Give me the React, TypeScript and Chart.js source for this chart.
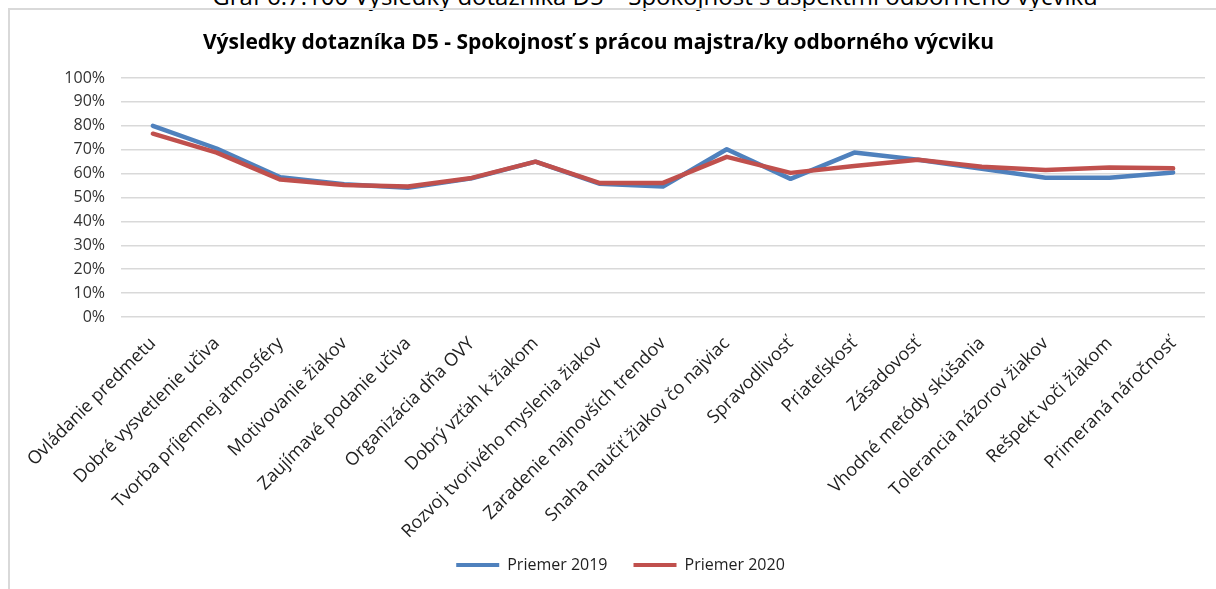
import { useEffect, useRef } from "react";
import { Chart, registerables } from "chart.js";

Chart.register(...registerables);

const pageHeading = "Graf 6.7.100 Výsledky dotazníka D5 – Spokojnosť s aspektmi odborného výcviku";
const chartTitle = "Výsledky dotazníka D5 - Spokojnosť s prácou majstra/ky odborného výcviku";

const categories = [
  "Ovládanie predmetu",
  "Dobré vysvetlenie učiva",
  "Tvorba príjemnej atmosféry",
  "Motivovanie žiakov",
  "Zaujímavé podanie učiva",
  "Organizácia dňa OVY",
  "Dobrý vzťah k žiakom",
  "Rozvoj tvorivého myslenia žiakov",
  "Zaradenie najnovších trendov",
  "Snaha naučiť žiakov čo najviac",
  "Spravodlivosť",
  "Priateľskosť",
  "Zásadovosť",
  "Vhodné metódy skúšania",
  "Tolerancia názorov žiakov",
  "Rešpekt voči žiakom",
  "Primeraná náročnosť",
];

const seriesNames = ["Priemer 2019", "Priemer 2020"];
const seriesColors = ["#4F81BD", "#C0504D"];

const priemer2019 = [80, 70.5, 58.5, 55.5, 54.1, 58, 65, 55.8, 54.6, 70.2, 57.8, 68.8, 65.8, 62, 58.3, 58.3, 60.5];
const priemer2020 = [76.7, 68.8, 57.5, 55.2, 54.6, 58.2, 65, 56.1, 56.1, 67, 60.3, 63.2, 65.8, 62.9, 61.5, 62.6, 62.2];

const yMin = 0;
const yMax = 100;
const yStep = 10;

const shiftPlugin = {
  id: "shiftBlocks",
  afterLayout(chart: any) {
    const t = chart.titleBlock;
    if (t) {
      t.left -= 14;
      t.right -= 14;
    }
    const l = chart.legend;
    if (l) {
      l.left += 8;
      l.right += 8;
    }
    const x = chart.scales.x;
    if (x) {
      // let the long rotated labels run past the legend row, as in the reference
      x.bottom = chart.height;
    }
  },
};

export default function App() {
  const canvasRef = useRef<HTMLCanvasElement | null>(null);

  useEffect(() => {
    if (!canvasRef.current) return;
    const chart = new Chart(canvasRef.current, {
      type: "line",
      data: {
        labels: categories,
        datasets: [
          {
            label: seriesNames[0],
            data: priemer2019,
            borderColor: seriesColors[0],
            backgroundColor: seriesColors[0],
            borderWidth: 4.5,
            pointRadius: 0,
            tension: 0,
            borderCapStyle: "round",
            borderJoinStyle: "round",
            order: 2,
          },
          {
            label: seriesNames[1],
            data: priemer2020,
            borderColor: seriesColors[1],
            backgroundColor: seriesColors[1],
            borderWidth: 4.5,
            pointRadius: 0,
            tension: 0,
            borderCapStyle: "round",
            borderJoinStyle: "round",
            order: 1,
          },
        ],
      },
      plugins: [shiftPlugin],
      options: {
        responsive: false,
        animation: false,
        events: [],
        layout: { padding: { left: 20, right: 11, top: 0, bottom: 6 } },
        scales: {
          x: {
            offset: true,
            grid: { display: false },
            border: { display: false },
            ticks: {
              minRotation: 45,
              maxRotation: 45,
              autoSkip: false,
              color: "#1f1f1f",
              padding: 8,
              font: { family: "'Open Sans', sans-serif", size: 18 },
            },
            afterFit: (scale: any) => {
              scale.height = 214;
            },
          },
          y: {
            min: yMin,
            max: yMax,
            grid: { color: "#d9d9d9", lineWidth: 1.5, drawTicks: false },
            border: { display: false },
            ticks: {
              stepSize: yStep,
              padding: 16,
              color: "#333333",
              font: { family: "'Open Sans', sans-serif", size: 16 },
              callback: (v: any) => v + "%",
            },
            afterFit: (scale: any) => {
              scale.width = 101;
            },
          },
        },
        plugins: {
          title: {
            display: true,
            text: chartTitle,
            color: "#000000",
            font: { family: "'Open Sans', sans-serif", size: 21, weight: "bold" },
            padding: { top: 30.4, bottom: 22.4 },
          },
          legend: {
            position: "bottom",
            labels: {
              boxWidth: 43,
              boxHeight: 4,
              padding: 26,
              color: "#1f1f1f",
              font: { family: "'Open Sans', sans-serif", size: 16 },
              generateLabels: (c: any) =>
                c.data.datasets.map((ds: any, i: number) => ({
                  text: ds.label,
                  fillStyle: ds.borderColor,
                  strokeStyle: ds.borderColor,
                  lineWidth: 0,
                  hidden: false,
                  datasetIndex: i,
                  fontColor: "#1f1f1f",
                })),
            },
          },
          tooltip: { enabled: false },
        },
      },
    });
    return () => chart.destroy();
  }, []);

  return (
    <div style={{ position: "absolute", left: 0, top: 0, width: 1216, height: 589, overflow: "hidden", background: "#fff" }}>
      <div
        style={{
          position: "absolute",
          left: 47,
          width: 1216,
          top: -16,
          textAlign: "center",
          fontFamily: "'Open Sans', sans-serif",
          fontSize: 24,
          lineHeight: "24px",
          color: "#000",
          whiteSpace: "nowrap",
        }}
      >
        {pageHeading}
      </div>
      <div
        style={{
          position: "absolute",
          left: 8,
          top: 8,
          width: 1400,
          height: 800,
          borderLeft: "2px solid #d9d9d9",
          borderTop: "2px solid #d9d9d9",
        }}
      />
      <canvas ref={canvasRef} width={1216} height={589} style={{ position: "absolute", left: 0, top: 0 }} />
    </div>
  );
}
